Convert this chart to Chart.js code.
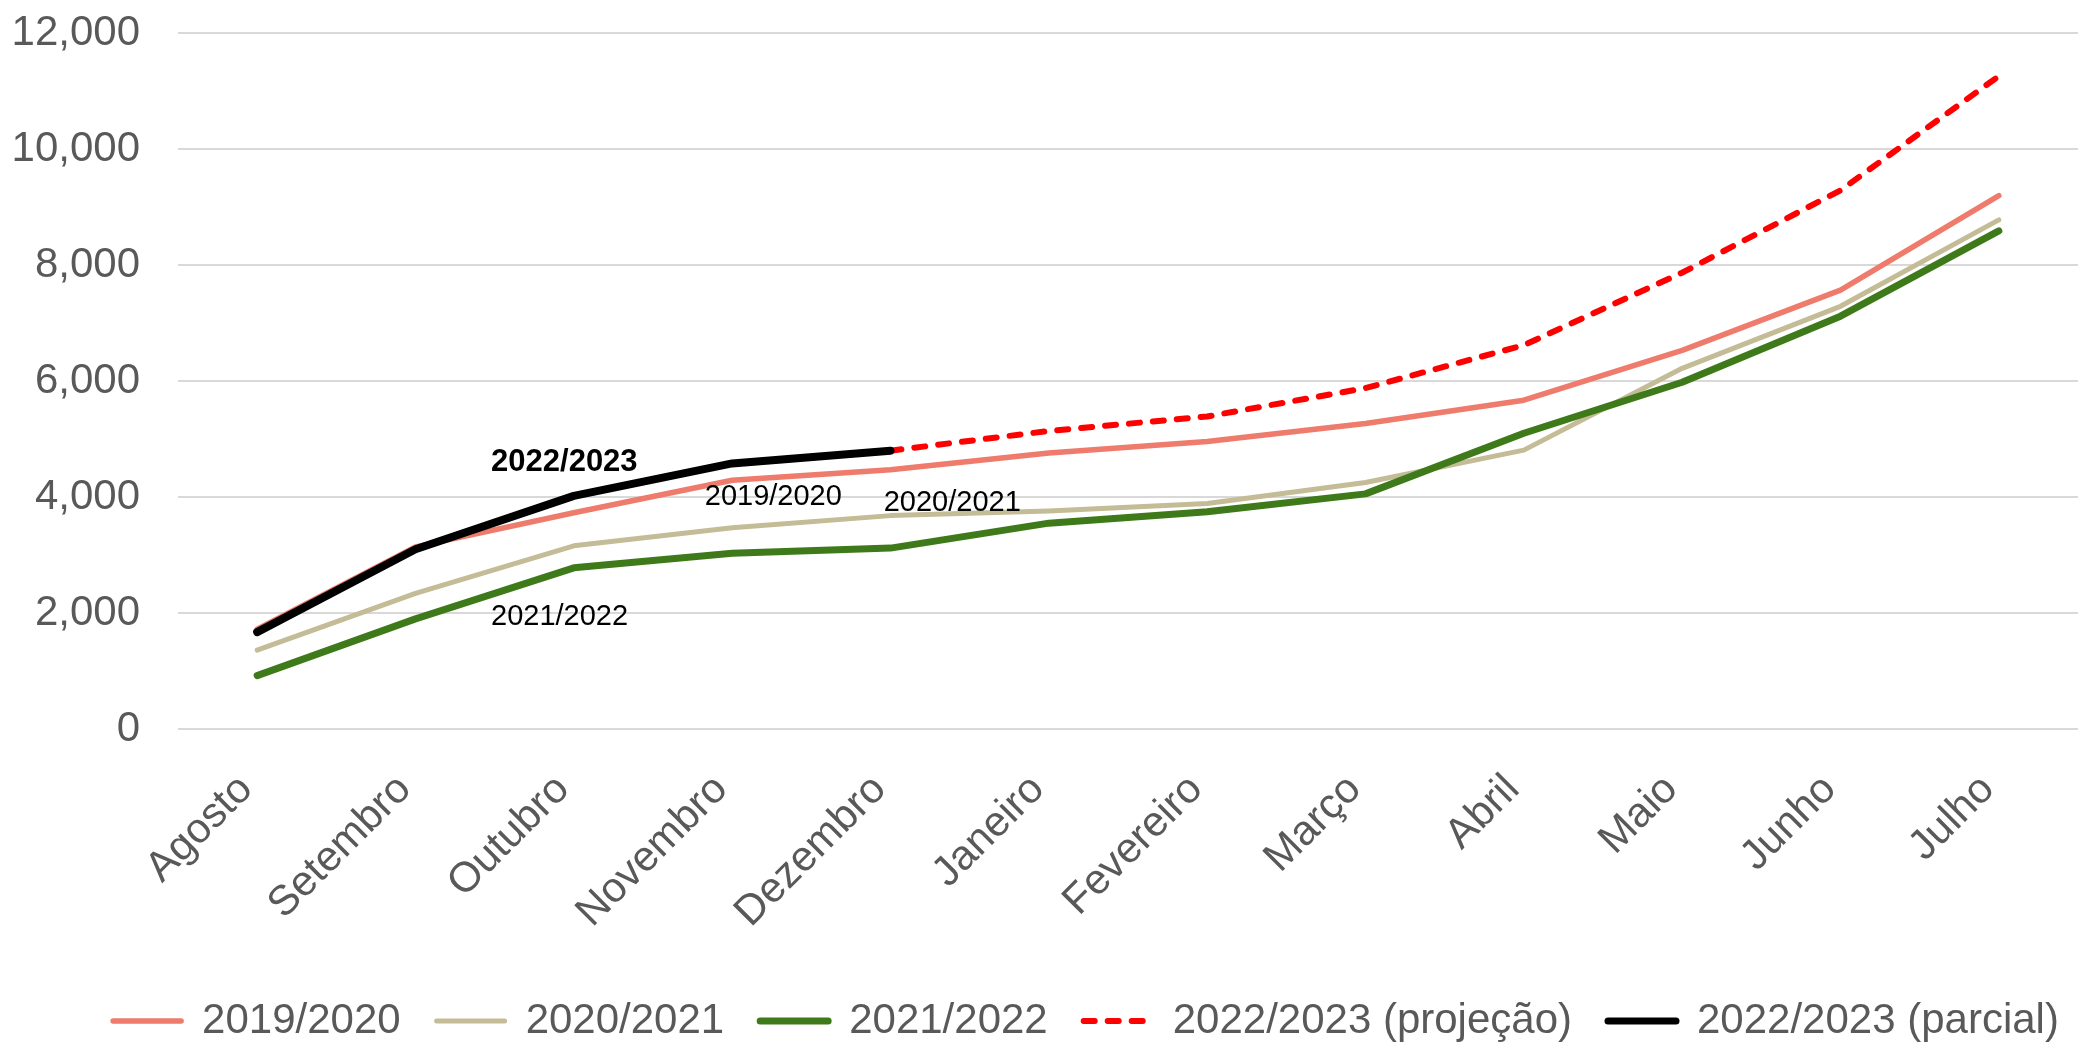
<!DOCTYPE html>
<html>
<head>
<meta charset="utf-8">
<script src="https://cdn.jsdelivr.net/npm/chart.js@4/dist/chart.umd.min.js"></script>
<style>
html,body{margin:0;padding:0;background:#ffffff;}
#wrap{width:2082px;height:1045px;}
</style>
</head>
<body>
<div id="wrap"><canvas id="c" width="2082" height="1045"></canvas></div>
<script>
// ---- data ----
const months = ['Agosto','Setembro','Outubro','Novembro','Dezembro','Janeiro','Fevereiro','Março','Abril','Maio','Junho','Julho'];
const s2019_2020 = [1720, 3140, 3730, 4290, 4470, 4760, 4960, 5270, 5670, 6530, 7570, 9200];
const s2020_2021 = [1360, 2340, 3160, 3470, 3680, 3760, 3890, 4250, 4810, 6220, 7290, 8780];
const s2021_2022 = [920, 1900, 2780, 3030, 3120, 3550, 3745, 4055, 5100, 5980, 7120, 8590];
const s2022_2023_proj = [null, null, null, null, 4800, 5140, 5390, 5880, 6620, 7870, 9290, 11260];
const s2022_2023_parc = [1670, 3100, 4020, 4580, 4800, null, null, null, null, null, null, null];
const seriesNames = ['2019/2020', '2020/2021', '2021/2022', '2022/2023 (projeção)', '2022/2023 (parcial)'];
const yTicks = [0, 2000, 4000, 6000, 8000, 10000, 12000];
// in-plot labels: text, category position (index), value
const labelTexts = ['2022/2023', '2019/2020', '2020/2021', '2021/2022'];
const labelCats = [1.94, 3.26, 4.39, 1.91];
const labelVals = [4605, 3995, 3895, 1925];
const labelBold = [true, false, false, false];

const FONT = '"Liberation Sans", Arial, Helvetica, sans-serif';
Chart.defaults.font.family = FONT;

const CHART_BOTTOM = 729;   // layout: bottom of plot area
const LEGEND_TOP = 964;     // layout: top of legend block
const LEGEND_SHIFT_X = 47;  // layout: legend row shift to the right

const inPlotLabels = {
  id: 'inPlotLabels',
  afterLayout(chart) {
    const lg = chart.legend;
    if (lg) {
      const dy = LEGEND_TOP - lg.top;
      lg.top += dy; lg.bottom += dy;
      lg.left += LEGEND_SHIFT_X; lg.right += LEGEND_SHIFT_X;
    }
  },
  afterDatasetsDraw(chart) {
    const {ctx, scales: {x, y}} = chart;
    const p0 = x.getPixelForValue(0), p1 = x.getPixelForValue(1);
    ctx.save();
    ctx.fillStyle = '#000000';
    ctx.textAlign = 'center';
    ctx.textBaseline = 'middle';
    labelTexts.forEach((t, i) => {
      ctx.font = (labelBold[i] ? 'bold 31px ' : '29px ') + FONT;
      ctx.fillText(t, p0 + labelCats[i] * (p1 - p0), y.getPixelForValue(labelVals[i]));
    });
    ctx.restore();
  }
};

new Chart(document.getElementById('c'), {
  type: 'line',
  data: {
    labels: months,
    datasets: [
      {label: seriesNames[0], data: s2019_2020, borderColor: '#EE7B6B', backgroundColor: '#EE7B6B', borderWidth: 5.5, order: 4},
      {label: seriesNames[1], data: s2020_2021, borderColor: '#C4BC96', backgroundColor: '#C4BC96', borderWidth: 5, order: 3},
      {label: seriesNames[2], data: s2021_2022, borderColor: '#3F7A1A', backgroundColor: '#3F7A1A', borderWidth: 7, order: 2},
      {label: seriesNames[3], data: s2022_2023_proj, borderColor: '#FF0000', backgroundColor: '#FF0000', borderWidth: 6, borderDash: [11, 13], order: 1},
      {label: seriesNames[4], data: s2022_2023_parc, borderColor: '#000000', backgroundColor: '#000000', borderWidth: 8, order: 0}
    ]
  },
  options: {
    responsive: false,
    animation: false,
    devicePixelRatio: 1,
    spanGaps: false,
    layout: {padding: {left: 0, right: 4, top: 33, bottom: 0}},
    elements: {
      point: {radius: 0, hoverRadius: 0},
      line: {tension: 0, borderCapStyle: 'round', borderJoinStyle: 'round', fill: false}
    },
    plugins: {
      tooltip: {enabled: false},
      legend: {
        position: 'bottom',
        labels: {
          usePointStyle: true,
          pointStyleWidth: 68,
          padding: 36,
          color: '#595959',
          font: {size: 42},
          generateLabels(chart) {
            return chart.data.datasets.map((ds, i) => ({
              text: ds.label,
              fillStyle: ds.borderColor,
              strokeStyle: ds.borderColor,
              lineWidth: Math.min(ds.borderWidth, 7),
              lineDash: ds.borderDash || [],
              lineCap: 'round',
              pointStyle: 'line',
              fontColor: '#595959',
              hidden: false,
              datasetIndex: i
            }));
          }
        }
      }
    },
    scales: {
      x: {
        offset: true,
        grid: {display: false, drawTicks: false},
        border: {display: false},
        ticks: {color: '#595959', font: {size: 42}, maxRotation: 45, minRotation: 45, autoSkip: false, padding: 36, labelOffset: -11},
        afterFit(s) {
          const lh = s.chart.legend ? s.chart.legend.height : 0;
          s.height = s.chart.height - lh - CHART_BOTTOM;
        }
      },
      y: {
        min: 0, max: 12000,
        afterBuildTicks(s) { s.ticks = yTicks.map(v => ({value: v})); },
        ticks: {color: '#595959', font: {size: 42}, padding: 8, callback: v => Number(v).toLocaleString('en-US')},
        grid: {color: '#D9D9D9', lineWidth: 2, drawTicks: true, tickLength: 30, tickColor: 'rgba(0,0,0,0)'},
        border: {display: false},
        afterFit(s) { s.width = 178; }
      }
    }
  },
  plugins: [inPlotLabels]
});
</script>
</body>
</html>
